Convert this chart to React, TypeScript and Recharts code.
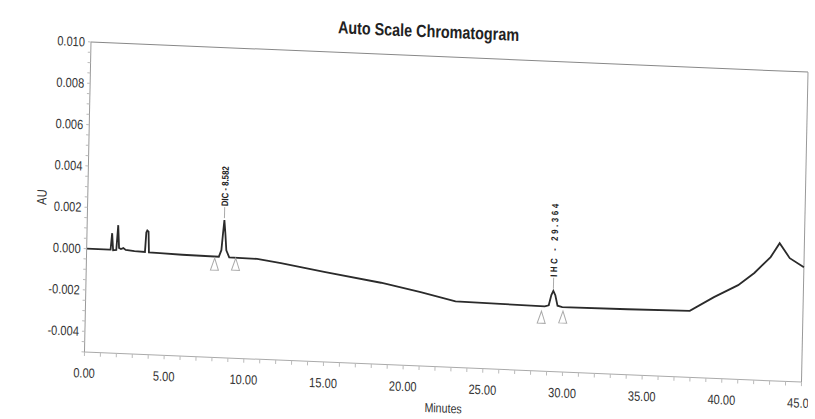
import React from 'react';
import { ComposedChart, Line, XAxis, YAxis, ReferenceLine, ReferenceDot } from 'recharts';

// Retention time (minutes) and detector response (AU)
const minutes = [0, 1.45, 1.5, 1.58, 1.66, 1.86, 1.95, 2.03, 2.15, 2.3, 2.45, 3.0, 3.66, 3.72, 3.78, 3.86, 3.91, 4.6, 6.0, 8.3, 8.45, 8.53, 8.6, 8.68, 8.76, 8.95, 10.7, 12.2, 15.0, 18.5, 21.0, 23.2, 26.0, 28.8, 29.05, 29.2, 29.32, 29.45, 29.6, 29.9, 34.0, 37.9, 39.4, 40.9, 41.9, 42.9, 43.45, 44.1, 45.0];
const absorbance = [0, 0, 0, 0.0008, -0.00002, 0, 0.0012, 0.0001, 0.00005, 0.0001, 0.00002, -0.00002, -0.00004, 0.0009, 0.001, 0.00095, -0.00005, -0.00007, -0.0001, -0.00012, 0.0002, 0.001, 0.00166, 0.001, 0.0002, -0.00013, -0.00015, -0.0003, -0.00065, -0.00105, -0.00142, -0.0018, -0.00183, -0.00186, -0.0018, -0.0013, -0.00109, -0.0013, -0.0018, -0.00186, -0.00183, -0.00178, -0.00107, -0.00044, 0.00018, 0.00098, 0.00167, 0.00097, 0.00056];

// Named peaks
const peakNames = ['DIC - 8.582', 'IHC - 29.364'];
const peakTimes = [8.6, 29.32];
const peakLevels = [0.00166, -0.00109];

// Peak start / end integration markers
const markerTimes = [8.04, 9.36, 28.6, 29.95];
const markerLevels = [-0.00049, -0.00045, -0.00239, -0.00234];

// Axis ticks
const xLabelValues = [0, 5, 10, 15, 20, 25, 30, 35, 40, 45];
const xMinorSteps = 45; // one tick per minute
const yLabelValues = [-0.004, -0.002, 0, 0.002, 0.004, 0.006, 0.008, 0.01];

const chartData = minutes.map((t, i) => ({ t, au: absorbance[i] }));
const xTicks = Array.from({ length: xMinorSteps + 1 }, (_, i) => i);
const yTicks = Array.from({ length: 31 }, (_, i) => (i - 10) * 0.0005);

const FONT = "'Liberation Sans', Arial, sans-serif";
const SQUEEZE = 0.82; // narrow (Arial Narrow-like) glyphs

const fmtX = (v: number) => (xLabelValues.includes(v) ? v.toFixed(2) : '');
const fmtY = (v: number) =>
  yLabelValues.some((l) => Math.abs(l - v) < 1e-9) ? v.toFixed(3) : '';

const NarrowText = (props: any) => {
  const { x, y, rotate = 0, children, ...rest } = props;
  return (
    <text
      x={0}
      y={0}
      transform={`translate(${x} ${y}) rotate(${rotate}) scale(${SQUEEZE} 1)`}
      fontFamily={FONT}
      {...rest}
    >
      {children}
    </text>
  );
};

const XTick = (props: any) => {
  const { x, y, payload } = props;
  const s = fmtX(payload.value);
  if (!s) return null;
  return (
    <NarrowText x={x} y={y} textAnchor="middle" dy="0.71em" fontSize={13.5} fill="#333">
      {s}
    </NarrowText>
  );
};

const YTick = (props: any) => {
  const { x, y, payload } = props;
  const s = fmtY(payload.value);
  if (!s) return null;
  return (
    <NarrowText x={x} y={y} textAnchor="end" dy="0.35em" fontSize={13.5} fill="#333">
      {s}
    </NarrowText>
  );
};

const PeakLabel = (props: any) => {
  const { cx, cy, text, gap, spacing } = props;
  if (cx == null || cy == null) return null;
  const ty = cy - gap;
  return (
    <g>
      <line x1={cx} y1={cy - 2} x2={cx} y2={ty} stroke="#aaa" strokeWidth={1} />
      <NarrowText
        x={cx}
        y={ty - 1}
        rotate={-90}
        dy="0.35em"
        textAnchor="start"
        fontSize={9.5}
        fontWeight="bold"
        letterSpacing={spacing}
        fill="#222"
      >
        {text}
      </NarrowText>
    </g>
  );
};

const Marker = (props: any) => {
  const { cx, cy } = props;
  if (cx == null || cy == null) return null;
  return (
    <polygon
      points={`${cx},${cy - 6} ${cx - 4},${cy + 6} ${cx + 4},${cy + 6}`}
      fill="none"
      stroke="#aaa"
      strokeWidth={1}
    />
  );
};

const AuLabel = (props: any) => {
  const vb = props.viewBox || {};
  const x = vb.x + 45;
  const y = vb.y + vb.height / 2 + 2;
  return (
    <NarrowText x={x} y={y} rotate={-90} textAnchor="middle" dy="0.35em" fontSize={13.5} fill="#333">
      AU
    </NarrowText>
  );
};

const MinutesLabel = (props: any) => {
  const vb = props.viewBox || {};
  const x = vb.x + vb.width / 2 + 1;
  const y = vb.y + 41;
  return (
    <NarrowText x={x} y={y} textAnchor="middle" dy="0.35em" fontSize={13} fill="#333">
      Minutes
    </NarrowText>
  );
};

export default function App() {
  return (
    <div
      style={{
        position: 'absolute',
        left: 0,
        top: 0,
        width: 815,
        height: 419,
        background: '#fff',
        transformOrigin: '91px 42px',
        transform: 'matrix(1, 0.042, -0.021, 1, 0, 0)',
      }}
    >
      <div
        style={{
          position: 'absolute',
          left: 278,
          width: 300,
          top: 6,
          textAlign: 'center',
          fontFamily: FONT,
          fontWeight: 'bold',
          fontSize: 17.5,
          lineHeight: '22px',
          color: '#222',
          transform: `scaleX(${SQUEEZE})`,
          transformOrigin: '150px 11px',
        }}
      >
        Auto Scale Chromatogram
      </div>
      <ComposedChart
        width={815}
        height={419}
        data={chartData}
        margin={{ top: 42, right: 7, bottom: 7, left: 0 }}
        style={{ position: 'absolute', left: 0, top: 0 }}
      >
        <XAxis
          dataKey="t"
          type="number"
          domain={[0, 45]}
          ticks={xTicks}
          interval={0}
          tickFormatter={fmtX}
          height={60}
          tickSize={4}
          tickMargin={12}
          axisLine={{ stroke: '#aaa' }}
          tickLine={{ stroke: '#bbb' }}
          tick={<XTick />}
          label={<MinutesLabel />}
        />
        <YAxis
          type="number"
          domain={[-0.005, 0.01]}
          ticks={yTicks}
          interval={0}
          tickFormatter={fmtY}
          width={91}
          tickSize={3}
          tickMargin={3}
          axisLine={{ stroke: '#999' }}
          tickLine={{ stroke: '#bbb' }}
          tick={<YTick />}
          label={<AuLabel />}
          allowDataOverflow
        />
        <ReferenceLine y={0.01} stroke="#888" strokeWidth={1} />
        <ReferenceLine x={45} stroke="#999" strokeWidth={1} />
        <Line
          type="linear"
          dataKey="au"
          stroke="#2b2b2b"
          strokeWidth={1.8}
          dot={false}
          activeDot={false}
          isAnimationActive={false}
        />
        {markerTimes.map((t, i) => (
          <ReferenceDot key={`m${i}`} x={t} y={markerLevels[i]} r={0} shape={(p: any) => <Marker {...p} />} />
        ))}
        {peakNames.map((name, i) => (
          <ReferenceDot
            key={`p${i}`}
            x={peakTimes[i]}
            y={peakLevels[i]}
            r={0}
            shape={(p: any) => <PeakLabel {...p} text={name} gap={13} spacing={i === 0 ? 0 : 3.2} />}
          />
        ))}
      </ComposedChart>
    </div>
  );
}
